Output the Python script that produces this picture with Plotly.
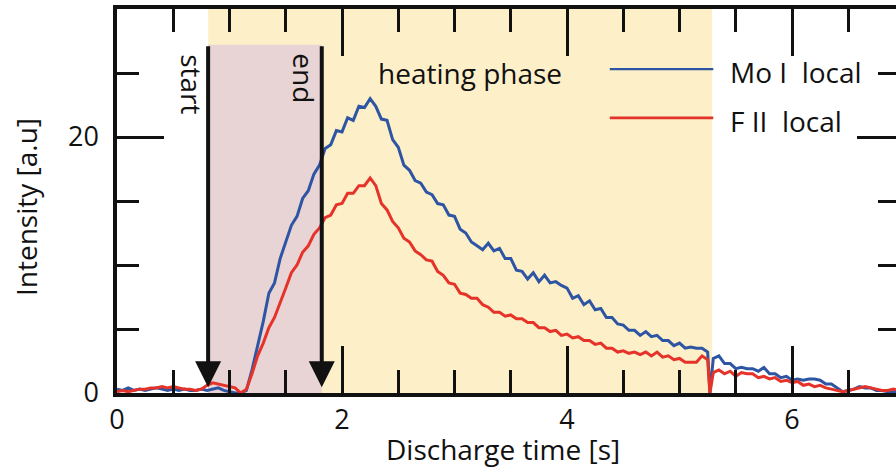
import numpy as np
import plotly.graph_objects as go

# ---- data ----
# sampling grid: 0.00..5.25 step 0.05, then 5.27, then 5.30..6.95 step 0.05
time_s = list(np.round(np.arange(0, 5.2501, 0.05), 2)) + [5.27] + list(np.round(np.arange(5.30, 6.9501, 0.05), 2))

mo_i_local = (
    [0.3, 0.2, 0.4, 0.2, 0.3, 0.2, 0.3, 0.4, 0.3, 0.2, 0.3, 0.2, 0.3, 0.2, 0.2, 0.3, 0.2, 0.3, 0.4, 0.2, 0.1, 0.0, 0.0]
    + [0.2, 1.8, 3.6, 5.6, 7.8, 8.6, 10.5, 11.8, 13.1, 13.8, 15.2, 15.8, 17.1, 17.8, 19.1, 19.4, 20.5, 20.4, 21.5, 21.3, 22.4, 22.3, 23.0]
    + [22.4, 21.4, 21.3, 19.8, 19.2, 17.8, 17.4, 16.6, 16.4, 15.7, 15.5, 14.8, 14.7, 13.9, 13.8, 12.8, 12.5, 11.8, 11.5, 11.2, 11.7, 11.1, 11.3]
    + [10.5, 10.5, 9.6, 9.5, 8.9, 9.4, 8.7, 9.2, 8.6, 8.7, 8.4, 8.2, 7.4, 7.6, 6.9, 7.2, 6.5, 6.6, 5.9, 5.9, 5.4, 5.3, 4.9]
    + [4.9, 4.5, 4.8, 4.4, 4.5, 4.1, 4.1, 3.7, 3.9, 3.5, 3.6, 3.5, 3.5, 3.2]
    + [0.0]
    + [2.7, 2.9, 2.3, 2.3, 1.9, 2.0, 1.9, 1.9, 1.7, 2.0, 1.5, 1.5, 1.2, 1.3, 1.0, 1.1, 1.0, 1.1, 1.1, 1.0,
       0.7, 0.7, 0.4, 0.1, 0.2, 0.3, 0.5, 0.4, 0.4, 0.2, 0.2, 0.1, 0.1, 0.1]
)

f_ii_local = (
    [0.1, 0.2, 0.1, 0.2, 0.3, 0.3, 0.4, 0.4, 0.5, 0.4, 0.5, 0.4, 0.3, 0.3, 0.2, 0.3, 0.6, 0.8, 0.7, 0.6, 0.5, 0.4, 0.0]
    + [0.3, 1.5, 2.9, 3.9, 5.1, 5.9, 7.0, 8.2, 9.4, 10.0, 11.0, 11.5, 12.4, 12.9, 13.7, 13.9, 14.7, 14.8, 15.6, 15.6, 16.2, 16.2, 16.8]
    + [16.2, 14.8, 14.3, 13.4, 12.9, 12.1, 11.8, 11.1, 10.8, 10.4, 10.3, 9.5, 9.2, 8.6, 8.5, 7.8, 7.7, 7.4, 7.4, 6.9, 6.7, 6.3, 6.3]
    + [6.0, 6.1, 5.8, 5.8, 5.5, 5.5, 5.1, 5.1, 4.8, 4.9, 4.5, 4.6, 4.3, 4.4, 4.1, 4.1, 3.8, 3.9, 3.5, 3.5, 3.2, 3.3, 3.1]
    + [3.2, 3.0, 3.2, 2.9, 3.2, 2.8, 2.9, 2.6, 2.7, 2.4, 2.4, 2.4, 2.9, 2.6]
    + [0.0]
    + [1.6, 1.8, 1.5, 1.7, 1.3, 1.6, 1.5, 1.5, 1.2, 1.3, 1.1, 1.2, 0.9, 1.0, 0.8, 0.9, 0.6, 0.7, 0.5, 0.6,
       0.4, 0.3, 0.2, 0.1, 0.2, 0.3, 0.4, 0.5, 0.4, 0.3, 0.2, 0.2, 0.3, 0.2]
)

series_names = ["Mo I  local", "F II  local"]
series_colors = ["#2E55A3", "#E6332A"]

heating_phase = [0.81, 5.29]      # s
puff_window = [0.81, 1.82]        # start / end markers (s)
puff_top = 27.2

x_range = [0, 6.924]
y_range = [0, 30]
x_tick_vals = [0, 2, 4, 6]
y_tick_vals = [0, 20]

FONT = "Open Sans"
FS = 28
INK = "#111111"

fig = go.Figure()
fig.add_trace(go.Scatter(x=time_s, y=mo_i_local, mode="lines", name=series_names[0],
                         line=dict(color=series_colors[0], width=3), showlegend=False))
fig.add_trace(go.Scatter(x=time_s, y=f_ii_local, mode="lines", name=series_names[1],
                         line=dict(color=series_colors[1], width=3), showlegend=False))
# helper trace for the right-hand tick axis
fig.add_trace(go.Scatter(x=[], y=[], yaxis="y2", showlegend=False, hoverinfo="skip"))

# background regions
fig.add_shape(type="rect", xref="x", yref="y", x0=heating_phase[0], x1=heating_phase[1],
              y0=y_range[0], y1=y_range[1], fillcolor="#FDF0C9", line_width=0, layer="below")
fig.add_shape(type="rect", xref="x", yref="y", x0=puff_window[0], x1=puff_window[1],
              y0=y_range[0], y1=puff_top, fillcolor="#E8D4D4", line_width=0, layer="below")

# start / end arrows
for xv in puff_window:
    fig.add_annotation(x=xv, y=0.45, ax=xv, ay=puff_top, xref="x", yref="y", axref="x", ayref="y",
                       text="", showarrow=True, arrowhead=2, arrowsize=1.3, arrowwidth=4,
                       arrowcolor=INK, standoff=0)

fig.add_annotation(x=0.67, y=24.1, text="start", textangle=90, showarrow=False,
                   font=dict(family=FONT, size=FS, color=INK))
fig.add_annotation(x=1.66, y=24.6, text="end", textangle=90, showarrow=False,
                   font=dict(family=FONT, size=FS, color=INK))
fig.add_annotation(x=3.14, y=25.0, text="heating phase", showarrow=False,
                   font=dict(family=FONT, size=FS, color=INK))

# hand-made legend
legend_y = [25.3, 21.5]
legend_text_y = [25.1, 21.25]
for name, col, ly, ty in zip(series_names, series_colors, legend_y, legend_text_y):
    fig.add_shape(type="line", xref="x", yref="y", x0=4.38, x1=5.30, y0=ly, y1=ly,
                  line=dict(color=col, width=2.8 if col == series_colors[1] else 2.2))
    fig.add_annotation(x=5.43, y=ty, text=name, showarrow=False, xanchor="left",
                       font=dict(family=FONT, size=FS, color=INK))

# axis titles
fig.add_annotation(xref="paper", yref="paper", x=0.495, y=-0.145, text="Discharge time [s]",
                   showarrow=False, yanchor="middle", font=dict(family=FONT, size=FS, color=INK))
fig.add_annotation(xref="paper", yref="paper", x=-0.117, y=0.484, text="Intensity [a.u]",
                   textangle=-90, showarrow=False, xanchor="center", yanchor="middle",
                   font=dict(family=FONT, size=FS, color=INK))

fig.update_layout(
    width=896, height=473,
    margin=dict(l=117, r=0, t=9, b=80),
    paper_bgcolor="white", plot_bgcolor="white",
    font=dict(family=FONT, size=FS, color=INK),
    xaxis=dict(range=x_range, tickvals=x_tick_vals, ticks="inside", ticklen=47, tickwidth=3,
               tickcolor=INK, showline=True, linewidth=3.5, linecolor=INK, mirror="ticks",
               showgrid=False, zeroline=False, ticklabelstandoff=0,
               minor=dict(dtick=0.5, ticks="inside", ticklen=23, tickwidth=3, tickcolor=INK, showgrid=False),
               tickfont=dict(size=FS - 1)),
    yaxis=dict(range=y_range, tickvals=y_tick_vals, ticks="inside", ticklen=47, tickwidth=3,
               tickcolor=INK, showline=True, linewidth=3.5, linecolor=INK,
               showgrid=False, zeroline=False, ticklabelstandoff=9,
               minor=dict(dtick=5, ticks="inside", ticklen=22, tickwidth=3, tickcolor=INK, showgrid=False),
               tickfont=dict(size=FS - 1)),
    yaxis2=dict(range=y_range, overlaying="y", side="right", anchor="x", tickvals=[20],
                ticks="inside", ticklen=39, tickwidth=3, tickcolor=INK, showticklabels=False,
                showline=False, showgrid=False, zeroline=False,
                minor=dict(dtick=5, ticks="inside", ticklen=18, tickwidth=3, tickcolor=INK, showgrid=False)),
)

fig.write_html("out.html")
